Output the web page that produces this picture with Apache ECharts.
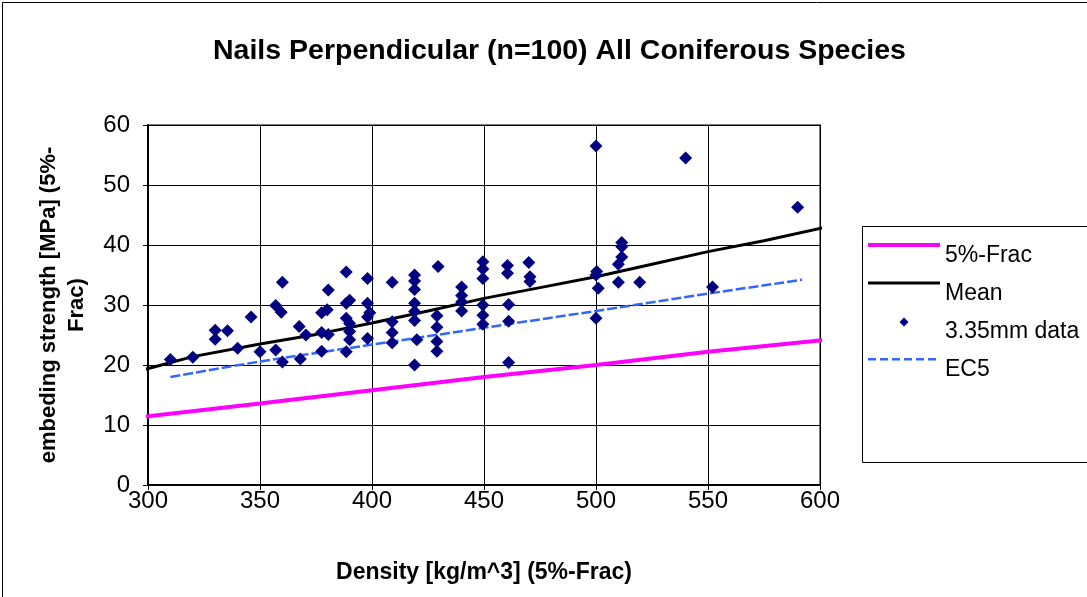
<!DOCTYPE html>
<html>
<head>
<meta charset="utf-8">
<script src="https://cdn.jsdelivr.net/npm/echarts@6/dist/echarts.min.js"></script>
<style>
  html, body { margin: 0; padding: 0; background: #ffffff; }
  #chart { width: 1087px; height: 597px; }
</style>
</head>
<body>
<div id="chart"></div>
<script>
// Axis ranges and ticks
const densityTicks = [300, 350, 400, 450, 500, 550, 600];
const strengthTicks = [0, 10, 20, 30, 40, 50, 60];

// 3.35mm nail test results: density [kg/m^3] and embedding strength [MPa]
const testDensity = [
  310, 320, 330, 330, 335.5, 346, 340, 350,
  357, 359.5, 360, 357, 360, 368, 367.5, 370.5, 377.5, 380.5, 377.5, 380.5, 377.5, 380,
  388.5, 388.5, 390, 388.5, 390, 390, 390, 388.5,
  398, 398, 399, 398, 398,
  409, 409, 409, 409,
  419, 419, 419, 419, 419, 419, 420, 419,
  429.5, 429, 429, 429, 429,
  440, 440, 440, 440,
  449.5, 449.5, 449.5, 449.5, 449.5, 449.5,
  460.5, 460.5, 461, 461, 461,
  470, 470.5, 470.5,
  500, 500.3, 500, 501, 500,
  511.5, 511.5, 511.5, 510, 510,
  519.5, 540, 552, 590
];
const testStrength = [
  20.9, 21.3, 25.8, 24.3, 25.7, 28.0, 22.8, 22.2,
  29.9, 28.8, 33.8, 22.5, 20.5, 21.0, 26.4, 25.0, 25.4, 25.1, 22.3, 32.5, 28.7, 29.2,
  35.5, 30.3, 30.8, 27.8, 26.9, 25.6, 24.2, 22.2,
  34.4, 30.3, 28.7, 28.0, 24.4,
  33.8, 27.2, 25.4, 23.7,
  35.0, 34.0, 32.6, 30.3, 28.9, 27.4, 24.2, 20.0,
  36.4, 28.2, 26.3, 23.9, 22.3,
  33.0, 31.6, 30.5, 29.0,
  37.2, 36.0, 34.4, 30.0, 28.3, 26.8,
  36.6, 35.3, 30.1, 27.3, 20.4,
  37.1, 34.7, 33.9,
  56.5, 35.6, 35.0, 32.8, 27.8,
  40.4, 39.7, 38.0, 36.8, 33.8,
  33.8, 54.5, 33.0, 46.3
];

// Fitted curves read along the density axis
const meanDensity = [296, 320, 350, 375, 400, 425, 450, 475, 500, 525, 550, 575, 603];
const meanStrength = [19.0, 21.4, 23.5, 25.1, 27.0, 29.0, 31.1, 32.9, 34.7, 36.8, 38.9, 40.7, 43.0];

const fracDensity = [296, 350, 400, 450, 500, 550, 603];
const fracStrength = [11.3, 13.6, 15.8, 18.0, 20.0, 22.2, 24.2];

const ec5Density = [310, 350, 400, 450, 500, 550, 592];
const ec5Strength = [18.0, 20.6, 23.4, 26.2, 29.0, 31.9, 34.2];

const legendNames = ['5%-Frac', 'Mean', '3.35mm data', 'EC5'];

const pairs = (xs, ys) => xs.map((x, i) => [x, ys[i]]);

const FONT = '"Liberation Sans", Arial, sans-serif';

// Legend keys as 72x30 paths; the leading moves fix the key's box so the strokes keep
// their size, and the marks sit above the middle so the label reads just below them
const KEY_BOX = 'M0,0M72,30';
const keyThickLine = 'path://' + KEY_BOX + 'M0,2H72V6H0Z';
const keyLine = 'path://' + KEY_BOX + 'M0,2.5H72V5.5H0Z';
const keyDiamond = 'path://' + KEY_BOX + 'M36,0.5L40.5,5L36,9.5L31.5,5Z';
let dashPath = 'path://' + KEY_BOX;
for (let x = 0; x < 72; x += 12) dashPath += 'M' + x + ',3H' + (x + 8) + 'V5.5H' + x + 'Z';

const chart = echarts.init(document.getElementById('chart'), null, { renderer: 'canvas' });

chart.setOption({
  backgroundColor: '#ffffff',
  animation: false,
  title: {
    text: 'Nails Perpendicular (n=100) All Coniferous Species',
    left: 208,
    top: 32,
    textStyle: { fontFamily: FONT, fontSize: 28.5, fontWeight: 'bold', color: '#000000' }
  },
  grid: {
    left: 148, top: 125, right: 267, bottom: 112,
    show: true, borderColor: '#808080', borderWidth: 2, backgroundColor: '#ffffff'
  },
  xAxis: {
    type: 'value',
    min: densityTicks[0],
    max: densityTicks[densityTicks.length - 1],
    interval: densityTicks[1] - densityTicks[0],
    name: 'Density [kg/m^3] (5%-Frac)',
    nameLocation: 'middle',
    nameGap: 76,
    nameTextStyle: { fontFamily: FONT, fontSize: 23, fontWeight: 'bold', color: '#000000' },
    axisLine: { onZero: false, lineStyle: { color: '#000000', width: 2 } },
    axisTick: { show: true, length: 5, lineStyle: { color: '#000000' } },
    axisLabel: { fontFamily: FONT, fontSize: 24, color: '#000000', margin: 4 },
    splitLine: { show: true, lineStyle: { color: '#000000', width: 1 } }
  },
  yAxis: {
    type: 'value',
    min: strengthTicks[0],
    max: strengthTicks[strengthTicks.length - 1],
    interval: strengthTicks[1] - strengthTicks[0],
    name: 'embeding strength [MPa] (5%-\nFrac)',
    nameLocation: 'middle',
    nameGap: 57,
    nameTextStyle: { fontFamily: FONT, fontSize: 22, fontWeight: 'bold', color: '#000000', lineHeight: 28 },
    axisLine: { onZero: false, lineStyle: { color: '#000000', width: 2 } },
    axisTick: { show: true, length: 5, lineStyle: { color: '#000000' } },
    axisLabel: { fontFamily: FONT, fontSize: 24, color: '#000000', margin: 18 },
    splitLine: { show: true, lineStyle: { color: '#000000', width: 1 } }
  },
  legend: {
    orient: 'vertical',
    left: 868,
    top: 241,
    padding: 0,
    itemWidth: 72,
    itemHeight: 30,
    itemGap: 8,
    itemStyle: { borderWidth: 0 },
    textStyle: { fontFamily: FONT, fontSize: 23, color: '#000000' },
    data: [
      { name: legendNames[0], icon: keyThickLine },
      { name: legendNames[1], icon: keyLine },
      { name: legendNames[2], icon: keyDiamond },
      { name: legendNames[3], icon: dashPath }
    ]
  },
  graphic: [
    {
      type: 'rect', z: -1, silent: true,
      shape: { x: 2.5, y: 2.5, width: 1100, height: 620 },
      style: { fill: null, stroke: '#000000', lineWidth: 1 }
    },
    {
      type: 'rect', z: 0, silent: true,
      shape: { x: 862.5, y: 226.5, width: 260, height: 236 },
      style: { fill: '#ffffff', stroke: '#000000', lineWidth: 1 }
    }
  ],
  series: [
    {
      name: legendNames[0], type: 'line', data: pairs(fracDensity, fracStrength),
      symbol: 'none', clip: false, z: 3,
      lineStyle: { color: '#ff00ff', width: 4 }, itemStyle: { color: '#ff00ff' }
    },
    {
      name: legendNames[1], type: 'line', data: pairs(meanDensity, meanStrength),
      symbol: 'none', clip: false, z: 3,
      lineStyle: { color: '#000000', width: 3 }, itemStyle: { color: '#000000' }
    },
    {
      name: legendNames[2], type: 'scatter', data: pairs(testDensity, testStrength),
      symbol: 'diamond', symbolSize: 13, z: 5,
      itemStyle: { color: '#000080', opacity: 1 }
    },
    {
      name: legendNames[3], type: 'line', data: pairs(ec5Density, ec5Strength),
      symbol: 'none', clip: false, z: 4,
      lineStyle: { color: '#3366ff', width: 2.5, type: [10, 3] }, itemStyle: { color: '#3366ff' }
    }
  ]
});
</script>
</body>
</html>
